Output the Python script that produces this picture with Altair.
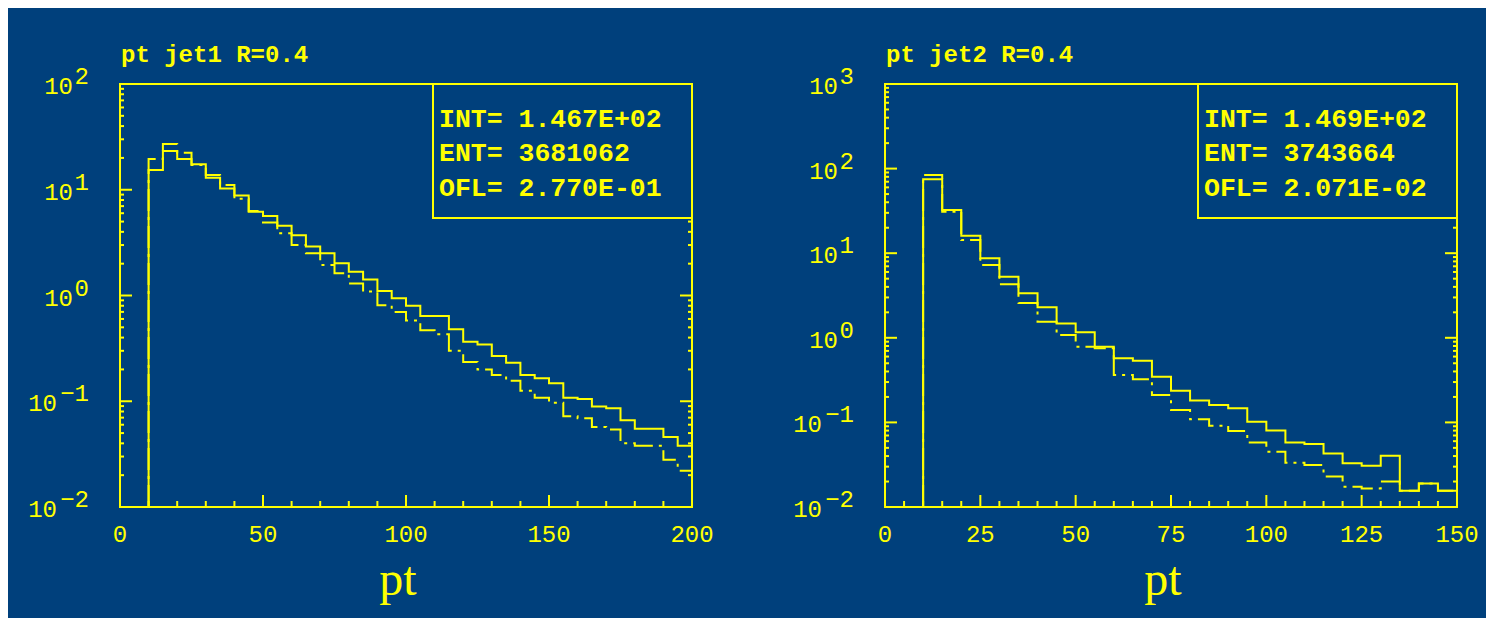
import altair as alt
import pandas as pd

BG = "#00407c"
YEL = "#ffff00"
MONO = "Liberation Mono"
SERIF = "Liberation Serif"

# ---------------- data: panel 1 (pt jet1) ----------------
title1 = "pt jet1 R=0.4"
bin_w1 = 5
lefts1 = list(range(10, 200, 5))
solid1 = [15.4, 23.2, 19.5, 17.4, 13.0, 10.3, 8.8, 6.2, 5.65, 4.57,
          3.71, 2.90, 2.51, 2.02, 1.68, 1.42, 1.10, 0.94, 0.80, 0.64,
          0.64, 0.48, 0.366, 0.345, 0.268, 0.231, 0.177, 0.165, 0.148, 0.108,
          0.105, 0.089, 0.086, 0.066, 0.055, 0.055, 0.046, 0.038]
dashed1 = [19.5, 27.1, 22.4, 17.1, 13.8, 11.1, 8.2, 6.3, 4.89, 3.87,
           3.0, 2.51, 1.94, 1.62, 1.30, 1.09, 0.81, 0.70, 0.58, 0.47,
           0.43, 0.30, 0.235, 0.20, 0.177, 0.156, 0.126, 0.108, 0.097, 0.072,
           0.069, 0.057, 0.054, 0.040, 0.038, 0.038, 0.028, 0.022]
xdom1 = [0, 200]
xmajor1 = [0, 50, 100, 150, 200]
xminor1 = [10, 20, 30, 40, 60, 70, 80, 90, 110, 120, 130, 140, 160, 170, 180, 190]
ydec1 = [-2, -1, 0, 1, 2]
stat_names = ["INT=", "ENT=", "OFL="]
stat_vals1 = [" 1.467E+02", "  3681062", " 2.770E-01"]

# ---------------- data: panel 2 (pt jet2) ----------------
title2 = "pt jet2 R=0.4"
bin_w2 = 5
lefts2 = list(range(10, 150, 5))
solid2 = [75, 32.4, 16.1, 8.7, 5.28, 3.36, 2.29, 1.48, 1.16, 0.785,
          0.572, 0.537, 0.347, 0.237, 0.181, 0.161, 0.147, 0.102, 0.080, 0.058,
          0.0556, 0.043, 0.0329, 0.0308, 0.0404, 0.0156, 0.019, 0.0156]
dashed2 = [84, 31, 14.3, 7.26, 4.3, 2.57, 1.55, 1.08, 0.785, 0.75,
           0.363, 0.324, 0.211, 0.140, 0.109, 0.0915, 0.079, 0.058, 0.045, 0.0334,
           0.0314, 0.023, 0.0174, 0.0166, 0.020, 0.0156, 0.019, 0.0156]
xdom2 = [0, 150]
xmajor2 = [0, 25, 50, 75, 100, 125, 150]
xminor2 = [5, 10, 15, 20, 30, 35, 40, 45, 55, 60, 65, 70, 80, 85, 90, 95,
           105, 110, 115, 120, 130, 135, 140, 145]
ydec2 = [-2, -1, 0, 1, 2, 3]
stat_vals2 = [" 1.469E+02", "  3743664", " 2.071E-02"]
x_title = "pt"

W, H = 572, 423


def hist_rows(lefts, vals, bw, ymin, name):
    rows = [{"pt": lefts[0], "v": ymin, "i": 0, "s": name}]
    for k, (x, v) in enumerate(zip(lefts, vals)):
        rows.append({"pt": x, "v": v, "i": k + 1, "s": name})
    rows.append({"pt": lefts[-1] + bw, "v": vals[-1], "i": len(vals) + 1, "s": name})
    return rows


def exp_text(e):
    return ("\u2212" + str(-e)) if e < 0 else str(e)


def panel(title, lefts, solid, dashed, bw, xdom, xmajor, xminor, ydec, svals):
    ymin, ymax = 10.0 ** ydec[0], 10.0 ** ydec[-1]
    xs = alt.Scale(domain=xdom, nice=False, zero=False)
    ys = alt.Scale(type="log", domain=[ymin, ymax], nice=False)

    hist = pd.DataFrame(hist_rows(lefts, solid, bw, ymin, "solid")
                        + hist_rows(lefts, dashed, bw, ymin, "dashed"))

    solid_line = alt.Chart(hist).transform_filter("datum.s == 'solid'").mark_line(
        interpolate="step-after", color=YEL, strokeWidth=2).encode(
        x=alt.X("pt:Q", scale=xs, axis=None),
        y=alt.Y("v:Q", scale=ys, axis=None),
        order="i:Q")
    dashed_line = alt.Chart(hist).transform_filter("datum.s == 'dashed'").mark_line(
        interpolate="step-after", color=YEL, strokeWidth=2, strokeDash=[22, 6, 3, 6]).encode(
        x=alt.X("pt:Q", scale=xs, axis=None),
        y=alt.Y("v:Q", scale=ys, axis=None),
        order="i:Q")

    ymaj = [10.0 ** e for e in ydec]
    ymin_t = [m * 10.0 ** e for e in ydec[:-1] for m in range(2, 10)]
    layers = []
    for vals, L in ((ymaj, 12), (ymin_t, 4)):
        d = pd.DataFrame({"v": vals})
        layers.append(alt.Chart(d).mark_rule(color=YEL, strokeWidth=2).encode(
            y=alt.Y("v:Q", scale=ys, axis=None), x=alt.value(0), x2=alt.value(L)))
        layers.append(alt.Chart(d).mark_rule(color=YEL, strokeWidth=2).encode(
            y=alt.Y("v:Q", scale=ys, axis=None), x=alt.value(W), x2=alt.value(W - L)))
    for vals, L in ((xmajor, 12), (xminor, 6)):
        d = pd.DataFrame({"p": vals})
        layers.append(alt.Chart(d).mark_rule(color=YEL, strokeWidth=2).encode(
            x=alt.X("p:Q", scale=xs, axis=None), y=alt.value(H), y2=alt.value(H - L)))

    # x tick labels
    xl = pd.DataFrame({"p": xmajor, "lab": [str(v) for v in xmajor]})
    xlabels = alt.Chart(xl).mark_text(font=MONO, fontSize=24, color=YEL, align="center",
                                      baseline="alphabetic").encode(
        x=alt.X("p:Q", scale=xs, axis=None), y=alt.value(H + 35), text="lab:N")

    # y tick labels: "10" + raised exponent
    ylab = pd.DataFrame({"v": ymaj, "e": [exp_text(e) for e in ydec],
                         "neg": [e < 0 for e in ydec]})
    txt = dict(font=MONO, fontSize=24, color=YEL, baseline="alphabetic")
    tens_pos = alt.Chart(ylab).transform_filter("!datum.neg").mark_text(
        text="10", align="right", dy=10, **txt).encode(
        y=alt.Y("v:Q", scale=ys, axis=None), x=alt.value(-47))
    tens_neg = alt.Chart(ylab).transform_filter("datum.neg").mark_text(
        text="10", align="right", dy=10, **txt).encode(
        y=alt.Y("v:Q", scale=ys, axis=None), x=alt.value(-63))
    expo = alt.Chart(ylab).mark_text(align="right", dy=0, **txt).encode(
        y=alt.Y("v:Q", scale=ys, axis=None), x=alt.value(-31), text="e:N")

    stat_txt = "\n".join(n + v for n, v in zip(stat_names, svals))
    sd = pd.DataFrame({"t": [stat_txt], "h": [title], "xt": [x_title]})
    box = alt.Chart(sd).mark_rect(fill=BG, stroke=YEL, strokeWidth=2).encode(
        x=alt.value(313), x2=alt.value(W), y=alt.value(0), y2=alt.value(134))
    stats = alt.Chart(sd).mark_text(align="left", baseline="alphabetic", lineBreak="\n",
                                    lineHeight=34.7, font=MONO, fontWeight="bold",
                                    fontSize=26.5, color=YEL).encode(
        x=alt.value(319), y=alt.value(42.7), text="t:N")
    head = alt.Chart(sd).mark_text(align="left", baseline="alphabetic", font=MONO,
                                   fontWeight="bold", fontSize=24, color=YEL).encode(
        x=alt.value(1), y=alt.value(-22), text="h:N")
    xtitle = alt.Chart(sd).mark_text(align="center", baseline="alphabetic", font=SERIF,
                                     fontSize=48, color=YEL).encode(
        x=alt.value(W / 2 - 8), y=alt.value(H + 88), text="xt:N")

    return alt.layer(solid_line, dashed_line, *layers, box, stats, head, xlabels, xtitle,
                     tens_pos, tens_neg, expo).properties(width=W, height=H)


p1 = panel(title1, lefts1, solid1, dashed1, bin_w1, xdom1, xmajor1, xminor1, ydec1, stat_vals1)
p2 = panel(title2, lefts2, solid2, dashed2, bin_w2, xdom2, xmajor2, xminor2, ydec2, stat_vals2)

chart = alt.hconcat(p1, p2, spacing=77).configure(
    background=BG, padding={"left": 19, "top": 34, "right": 6, "bottom": 12}
).configure_view(stroke=YEL, strokeWidth=2)

chart.save("out.html", embed_options={"renderer": "svg", "actions": False})
